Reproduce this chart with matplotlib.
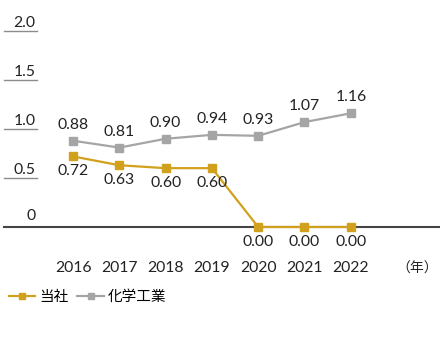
import matplotlib.pyplot as plt

plt.rcParams['font.family'] = ['Lato', 'Noto Sans CJK JP', 'DejaVu Sans']

# données
years = ['2016', '2017', '2018', '2019', '2020', '2021', '2022']
company = [0.72, 0.63, 0.60, 0.60, 0.00, 0.00, 0.00]
industry = [0.88, 0.81, 0.90, 0.94, 0.93, 1.07, 1.16]
yticks = [0.5, 1.0, 1.5, 2.0]
ytick_labels = ['0.5', '1.0', '1.5', '2.0']

gold = '#D1A01C'
gray = '#A5A5A5'
txt = '#222222'
fs = 11.3

fig = plt.figure(figsize=(4.4, 3.53), dpi=100)
ax = fig.add_axes([0, 0, 1, 1])
ax.axis('off')

x = list(range(len(years)))
ax.set_xlim(-1.577, 7.927)
ax.set_ylim(-1.286, 2.316)

l1, = ax.plot(x, company, color=gold, lw=1.6, marker='s', ms=5.5, label='当社')
l2, = ax.plot(x, industry, color=gray, lw=1.6, marker='s', ms=5.5, label='化学工業')

for i in x:
    ax.annotate(f'{industry[i]:.2f}', (i, industry[i]), xytext=(0, 11.5),
                textcoords='offset points', ha='center', va='center',
                fontsize=fs, color=txt)
    ax.annotate(f'{company[i]:.2f}', (i, company[i]), xytext=(0, -10.5),
                textcoords='offset points', ha='center', va='center',
                fontsize=fs, color=txt)
    ax.text(i, -0.418, years[i], ha='center', va='center', fontsize=fs,
            color=txt)
ax.text(7.43, -0.418, '（年）', ha='center', va='center', fontsize=10,
        color=txt)

# axe y fait main
tr = ax.get_yaxis_transform()
for v, s in zip(yticks, ytick_labels):
    ax.plot([0.009, 0.084], [v, v], color='#8c8c8c', lw=1, transform=tr)
    ax.text(0.08, v + 0.085, s, ha='right', va='center', fontsize=fs,
            color=txt, transform=tr)
ax.text(0.08, 0.115, '0', ha='right', va='center', fontsize=fs,
        color=txt, transform=tr)
ax.plot([0.009, 1.0], [0, 0], color='#444444', lw=1.5, transform=tr, zorder=1)

ax.legend(handles=[l1, l2], loc='center left', bbox_to_anchor=(0.0, 0.158),
          bbox_transform=fig.transFigure, ncol=2, frameon=False, fontsize=10.5,
          handlelength=1.8, handletextpad=0.3, columnspacing=0.6,
          borderaxespad=0.2, markerscale=0.85)

plt.savefig('out.png', dpi=100)
